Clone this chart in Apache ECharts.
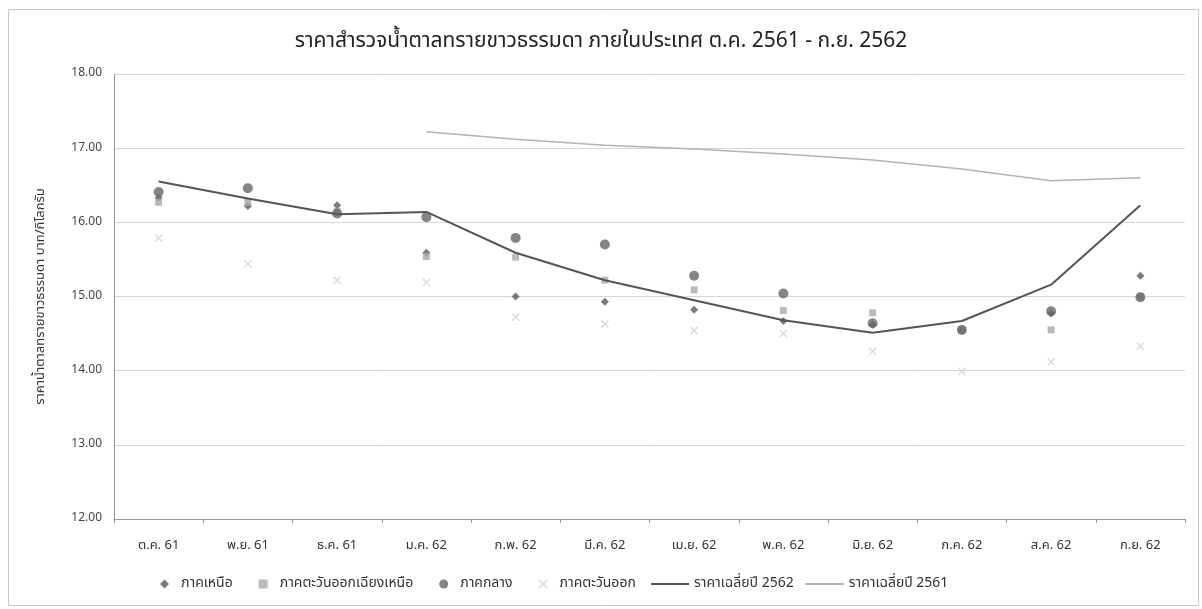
<!DOCTYPE html>
<html><head><meta charset="utf-8">
<script src="https://cdn.jsdelivr.net/npm/echarts@6/dist/echarts.min.js"></script>
<style>html,body{margin:0;padding:0;background:#fff}#c{width:1202px;height:609px}</style>
</head><body><div id="c"></div>
<script>
const categories = ['ต.ค. 61','พ.ย. 61','ธ.ค. 61','ม.ค. 62','ก.พ. 62','มี.ค. 62','เม.ย. 62','พ.ค. 62','มิ.ย. 62','ก.ค. 62','ส.ค. 62','ก.ย. 62'];
const north     = [16.33,16.22,16.23,15.59,15.00,14.93,14.82,14.67,14.62,14.55,14.77,15.28];
const northeast = [16.27,16.27,16.15,15.54,15.53,15.22,15.09,14.81,14.78,14.55,14.55,15.00];
const central   = [16.41,16.46,16.12,16.07,15.79,15.70,15.28,15.04,14.64,14.55,14.80,14.99];
const east      = [15.79,15.44,15.22,15.19,14.72,14.63,14.54,14.50,14.26,13.99,14.12,14.33];
const avg2562   = [16.55,16.32,16.11,16.14,15.59,15.22,14.95,14.68,14.51,14.67,15.16,16.23];
const avg2561   = [null,null,null,17.22,17.12,17.04,16.99,16.92,16.84,16.72,16.56,16.60];
const yTicks    = {min:12, max:18, interval:1};

const FONT = 'Tahoma, "Noto Sans Thai", "Noto Sans", "DejaVu Sans", sans-serif';
const XPATH = 'path://M0,1.2L1.2,0L5,3.8L8.8,0L10,1.2L6.2,5L10,8.8L8.8,10L5,6.2L1.2,10L0,8.8L3.8,5Z';

const chart = echarts.init(document.getElementById('c'));
chart.setOption({
  backgroundColor:'#fff',
  textStyle:{fontFamily:FONT},
  title:{text:'ราคาสำรวจน้ำตาลทรายขาวธรรมดา ภายในประเทศ ต.ค. 2561 - ก.ย. 2562',
    left:'center', top:27, textStyle:{fontSize:21, fontWeight:'normal', color:'#222', fontFamily:FONT}},
  graphic:[{type:'rect', shape:{x:8.5,y:9.5,width:1190,height:596}, style:{fill:'none', stroke:'#c8c8c8', lineWidth:1}, silent:true}],
  grid:{left:114, right:17, top:74, bottom:90},
  legend:[
    {left:155, bottom:13, itemGap:26, itemWidth:9, itemHeight:9,
      textStyle:{fontSize:14, color:'#333', fontFamily:FONT, padding:[0,0,0,7]},
      data:[
        {name:'ภาคเหนือ', icon:'diamond'},
        {name:'ภาคตะวันออกเฉียงเหนือ', icon:'rect'},
        {name:'ภาคกลาง', icon:'circle'},
        {name:'ภาคตะวันออก', icon:XPATH}
      ]},
    {left:646, bottom:13, itemGap:12, itemWidth:38, itemHeight:2,
      textStyle:{fontSize:14, color:'#333', fontFamily:FONT},
      data:[
        {name:'ราคาเฉลี่ยปี 2562', icon:'rect'},
        {name:'ราคาเฉลี่ยปี 2561', icon:'rect'}
      ]}
  ],
  xAxis:{type:'category', data:categories, boundaryGap:true,
    axisLine:{lineStyle:{color:'#999'}}, axisTick:{show:true, length:4, lineStyle:{color:'#999'}},
    axisLabel:{fontSize:13, color:'#333', margin:21, fontFamily:FONT}},
  yAxis:{type:'value', min:yTicks.min, max:yTicks.max, interval:yTicks.interval,
    name:'ราคาน้ำตาลทรายขาวธรรมดา บาท/กิโลกรัม', nameLocation:'middle', nameGap:66, nameRotate:90,
    nameTextStyle:{fontSize:13, color:'#333', fontFamily:FONT},
    axisLine:{show:true, lineStyle:{color:'#999'}}, axisTick:{show:false},
    axisLabel:{fontSize:12, color:'#444', margin:12, formatter:v=>v.toFixed(2)},
    splitLine:{lineStyle:{color:'#d6d6d6'}}},
  series:[
    {name:'ภาคเหนือ', type:'scatter', data:north, symbol:'diamond', symbolSize:8, itemStyle:{color:'#5a5a5a'}, z:3},
    {name:'ภาคตะวันออกเฉียงเหนือ', type:'scatter', data:northeast, symbol:'rect', symbolSize:7, itemStyle:{color:'#a9a9a9'}, z:3},
    {name:'ภาคกลาง', type:'scatter', data:central, symbol:'circle', symbolSize:10, itemStyle:{color:'#666'}, z:4},
    {name:'ภาคตะวันออก', type:'scatter', data:east, symbol:XPATH, symbolSize:8, itemStyle:{color:'#cfcfcf'}, z:3},
    {name:'ราคาเฉลี่ยปี 2562', type:'line', data:avg2562, symbol:'none', showSymbol:false,
      lineStyle:{color:'#555', width:2}, itemStyle:{color:'#555'}, z:5},
    {name:'ราคาเฉลี่ยปี 2561', type:'line', data:avg2561, symbol:'none', showSymbol:false,
      lineStyle:{color:'#b3b3b3', width:1.5}, itemStyle:{color:'#b3b3b3'}, z:5}
  ]
});
</script></body></html>
